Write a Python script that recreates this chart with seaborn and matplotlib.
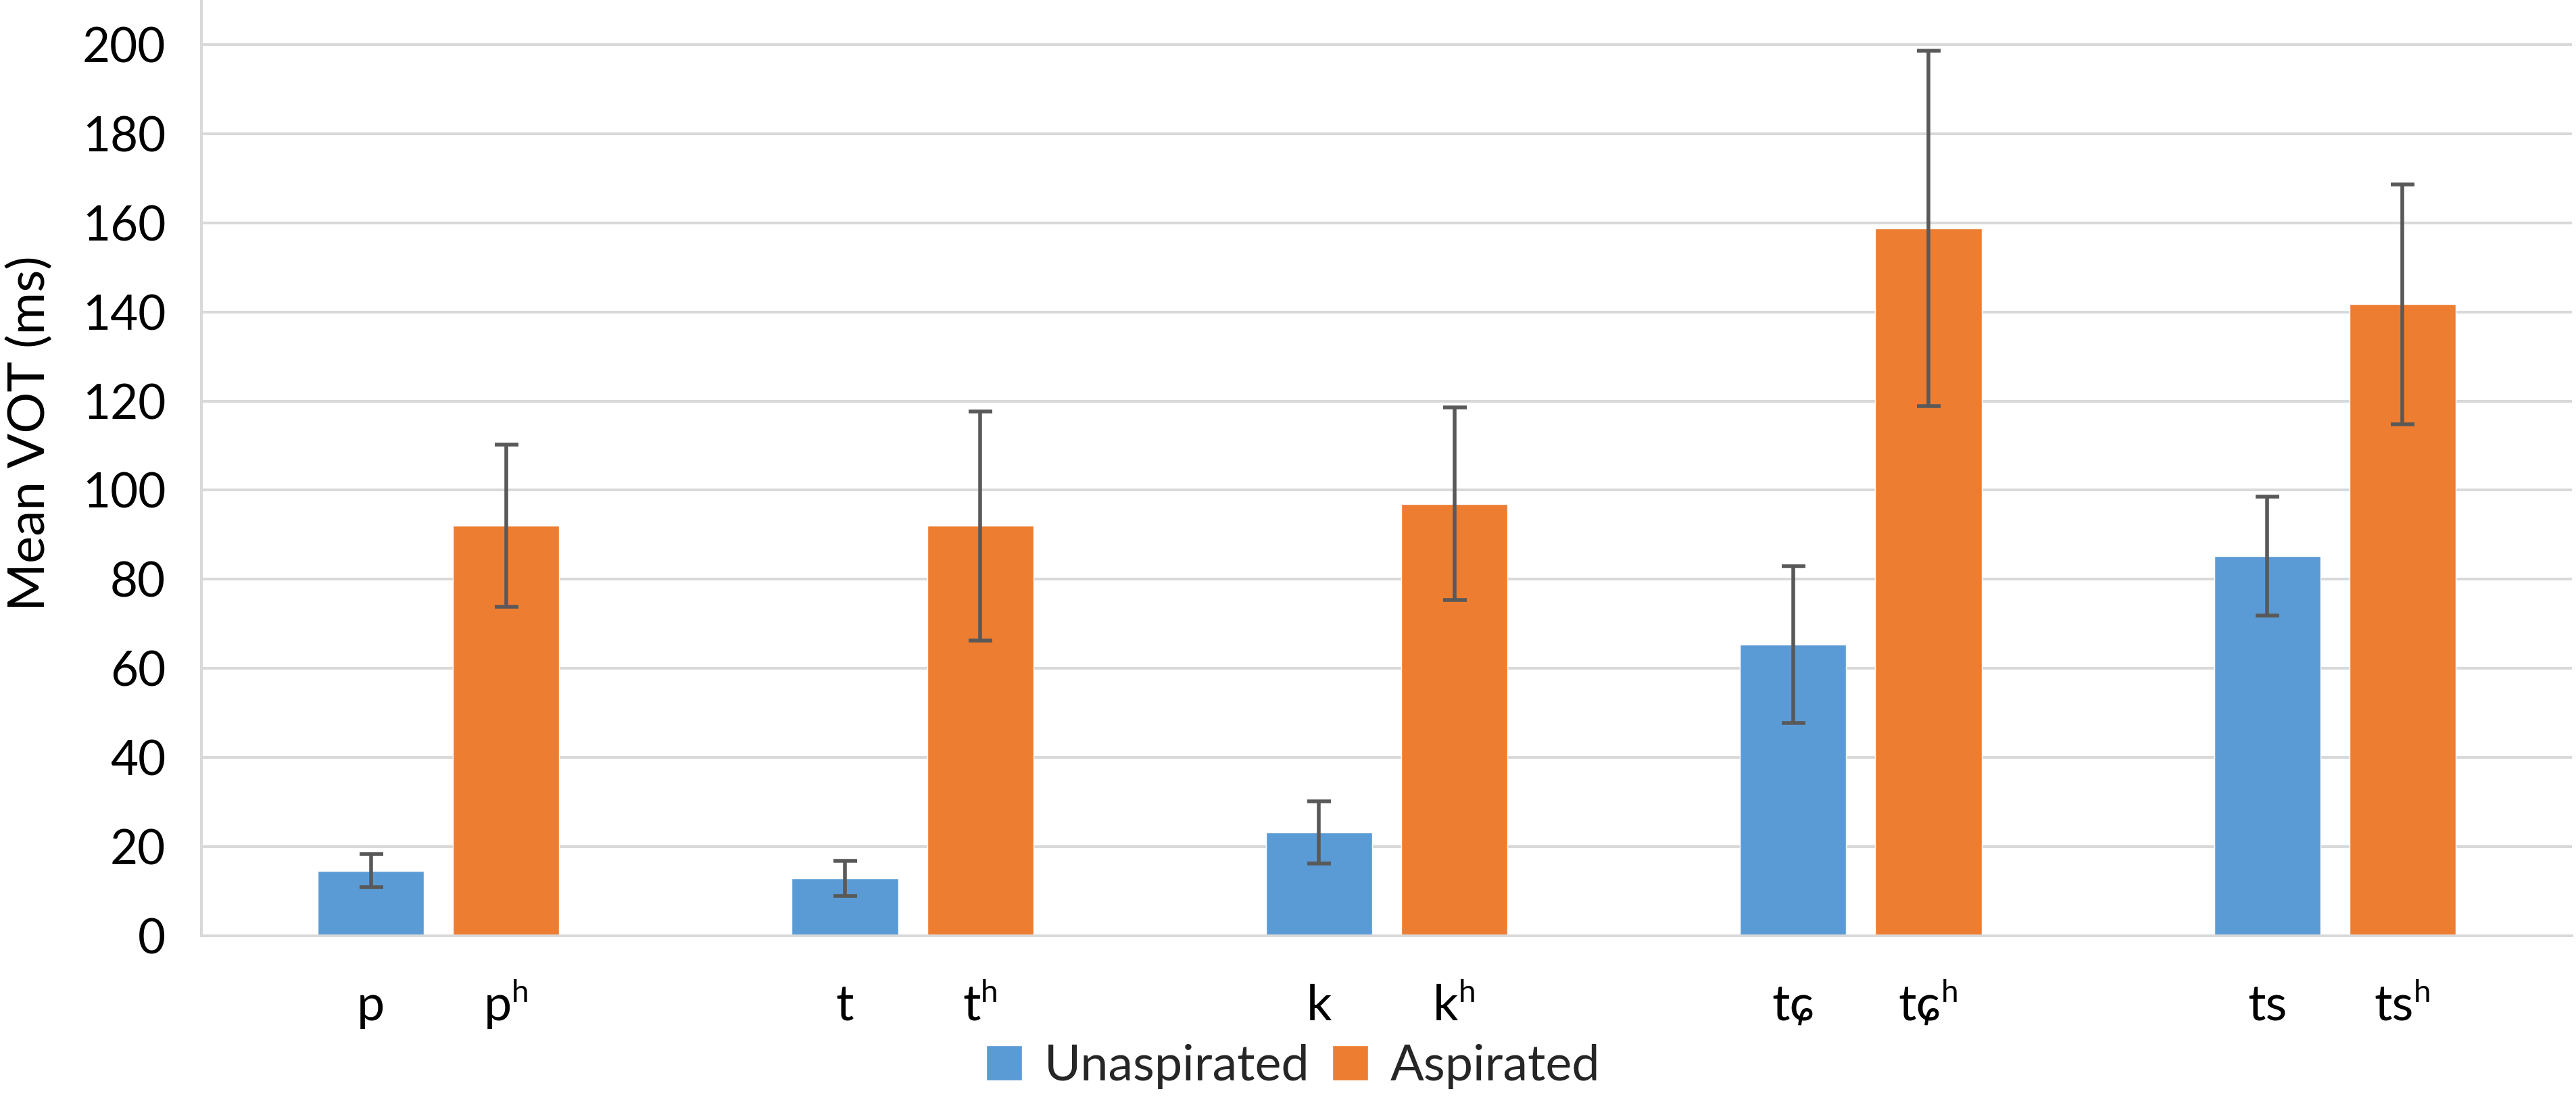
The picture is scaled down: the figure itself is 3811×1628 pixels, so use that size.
import matplotlib
matplotlib.use("Agg")
import matplotlib.pyplot as plt
import matplotlib.transforms as mtransforms
from matplotlib.container import BarContainer
import seaborn as sns
import pandas as pd

# ---- data ----
consonants = ["p", "t", "k", "tɕ", "ts"]
unasp_labels = ["p", "t", "k", "tɕ", "ts"]
asp_labels = ["pʰ", "tʰ", "kʰ", "tɕʰ", "tsʰ"]
series = ["Unaspirated", "Aspirated"]
unasp_mean = [14.6, 12.9, 23.2, 65.4, 85.2]
unasp_err = [3.7, 3.9, 7.0, 17.6, 13.3]
asp_mean = [92.0, 92.0, 96.9, 158.8, 141.7]
asp_err = [18.2, 25.7, 21.6, 39.9, 26.9]
yticks = [0, 20, 40, 60, 80, 100, 120, 140, 160, 180, 200]

BLUE = "#5B9BD5"
ORANGE = "#ED7D31"
GRID = "#D9D9D9"
ERR = "#595959"

df = pd.DataFrame({
    "consonant": consonants * 2,
    "type": [series[0]] * len(consonants) + [series[1]] * len(consonants),
    "vot": unasp_mean + asp_mean,
})

sns.set_theme(style="white")
FAM = ["Lato", "DejaVu Sans"]
plt.rcParams["font.family"] = FAM

W, H = 3811, 1628
fig = plt.figure(figsize=(W / 100, H / 100), dpi=100)
left, right, bottom_px, top_px = 298, 3805, 1385, 0
ax = fig.add_axes([left / W, 1 - bottom_px / H, (right - left) / W, (bottom_px - top_px) / H])

sns.barplot(data=df, x="consonant", y="vot", hue="type", order=consonants,
            hue_order=series, palette=[BLUE, ORANGE], saturation=1,
            width=0.571, gap=0.215, errorbar=None, ax=ax, zorder=2)

ax.set_ylim(0, 210)
ax.set_xlim(-0.5, len(consonants) - 0.5)
ax.set_yticks(yticks)
ax.yaxis.grid(True, color=GRID, linewidth=2.9, zorder=0)
ax.set_axisbelow(True)
for s in ["top", "right"]:
    ax.spines[s].set_visible(False)
for s in ["left", "bottom"]:
    ax.spines[s].set_color(GRID)
    ax.spines[s].set_linewidth(2.9)
ax.tick_params(axis="y", length=0, pad=38, labelsize=51, labelcolor="black")
ax.tick_params(axis="x", length=0, labelbottom=False)
ax.set_xlabel("")
ax.set_ylabel("")

renderer = fig.canvas.get_renderer()
LAB_FS = 53
SUP_FS = 33
SUP_RAISE = 27  # px
BASE_Y = -0.0903

# error bars and per-bar labels from the library's bar positions
errs = [unasp_err, asp_err]
labs = [unasp_labels, asp_labels]
bar_conts = [c for c in ax.containers if isinstance(c, BarContainer)]
trans = mtransforms.blended_transform_factory(ax.transData, ax.transAxes)
for ci, cont in enumerate(bar_conts):
    xs = [b.get_x() + b.get_width() / 2 for b in cont]
    ys = [b.get_height() for b in cont]
    ax.errorbar(xs, ys, yerr=errs[ci], fmt="none", ecolor=ERR, elinewidth=4.0,
                capsize=12.6, capthick=4.0, zorder=3)
    for x, lab in zip(xs, labs[ci]):
        if lab.endswith("ʰ"):
            base_s, sup_s = lab[:-1], "h"
            t1 = ax.text(x, BASE_Y, base_s, transform=trans, ha="left", va="baseline",
                         fontsize=LAB_FS, color="black", family=FAM)
            t2 = ax.text(x, BASE_Y, sup_s, transform=trans, ha="left", va="baseline",
                         fontsize=SUP_FS, color="black", family=FAM)
            wb = t1.get_window_extent(renderer).width
            ws = t2.get_window_extent(renderer).width
            tot = wb + ws
            t1.set_transform(mtransforms.offset_copy(trans, fig, x=-tot / 2, y=0, units="dots"))
            t2.set_transform(mtransforms.offset_copy(trans, fig, x=-tot / 2 + wb, y=SUP_RAISE,
                                                     units="dots"))
        else:
            ax.text(x, BASE_Y, lab, transform=trans, ha="center", va="baseline",
                    fontsize=LAB_FS, color="black", family=FAM)

# y label
fig.text(44 / W, 1 - 641 / H, "Mean VOT (ms)", rotation=90, ha="center", va="center",
         fontsize=55, color="black", family=FAM)

# legend
handles, labels = ax.get_legend_handles_labels()
if ax.get_legend() is not None:
    ax.get_legend().remove()
fig.legend(handles, labels, loc="center", bbox_to_anchor=(1913 / W, 1 - 1578 / H),
           ncol=2, frameon=False, fontsize=53, handlelength=0.72, handleheight=0.72,
           handletextpad=0.45, columnspacing=0.45, borderpad=0, borderaxespad=0)

fig.savefig("out.png", dpi=100, facecolor="white")
